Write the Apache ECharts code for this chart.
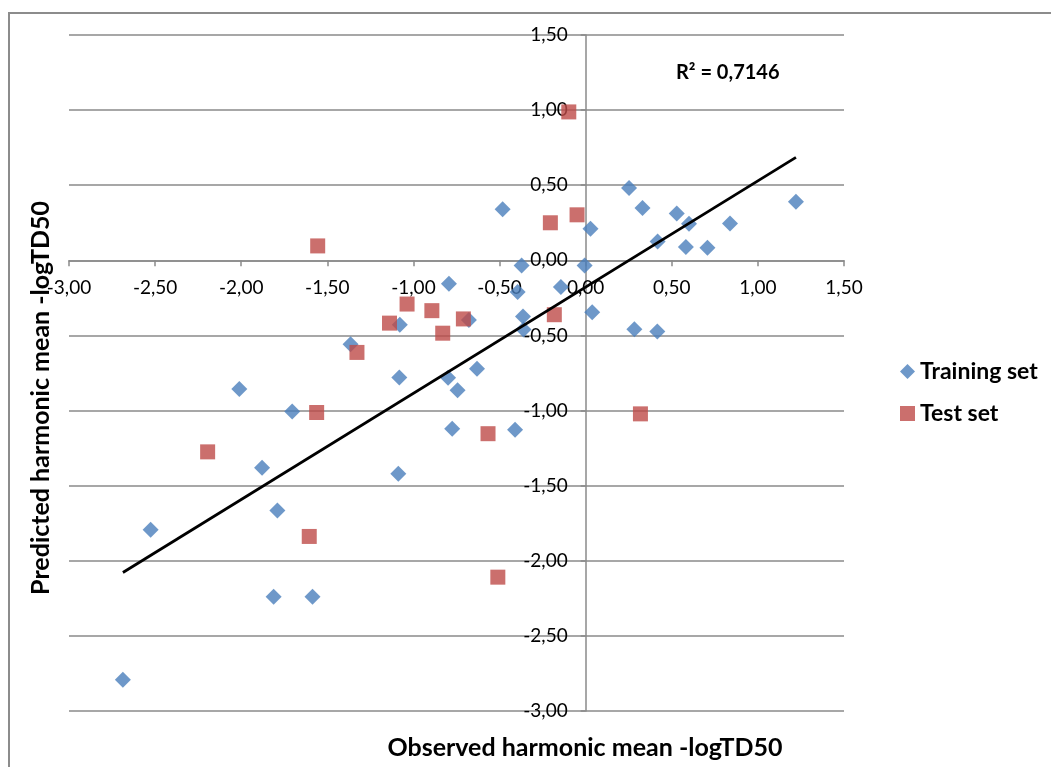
<!DOCTYPE html>
<html>
<head>
<meta charset="utf-8">
<script src="https://cdn.jsdelivr.net/npm/echarts@6/dist/echarts.min.js"></script>
<style>
  html, body { margin: 0; padding: 0; background: #fff; }
  #chart { width: 1051px; height: 767px; }
</style>
</head>
<body>
<div id="chart"></div>
<script>
// observed (x) / predicted (y) -logTD50
var trainX = [-2.687, -2.526, -2.011, -1.879, -1.812, -1.790, -1.704, -1.586, -1.365, -1.088,
  -1.082, -1.079, -0.799, -0.794, -0.775, -0.744, -0.678, -0.631, -0.482, -0.410,
  -0.395, -0.372, -0.364, -0.361, -0.144, -0.006, 0.028, 0.038, 0.252, 0.283,
  0.330, 0.416, 0.418, 0.529, 0.582, 0.600, 0.707, 0.838, 1.221];
var trainY = [-2.792, -1.794, -0.856, -1.381, -2.239, -1.665, -1.007, -2.239, -0.558, -1.421,
  -0.780, -0.428, -0.782, -0.156, -1.121, -0.865, -0.398, -0.722, 0.340, -1.128,
  -0.211, -0.034, -0.374, -0.461, -0.178, -0.035, 0.210, -0.345, 0.481, -0.458,
  0.348, -0.473, 0.125, 0.311, 0.089, 0.244, 0.083, 0.246, 0.390];

var testX = [-2.195, -1.605, -1.562, -1.556, -1.328, -1.139, -1.037, -0.893, -0.830,
  -0.710, -0.567, -0.510, -0.205, -0.182, -0.098, -0.050, 0.318];
var testY = [-1.275, -1.838, -1.013, 0.096, -0.613, -0.418, -0.291, -0.335, -0.485,
  -0.390, -1.154, -2.109, 0.250, -0.362, 0.988, 0.303, -1.022];

var seriesNames = ['Training set', 'Test set'];
var r2Label = 'R² = 0,7146';
var axisMin = -3, axisMax = 1.5, axisStep = 0.5;

function zip(xs, ys) {
  return xs.map(function (x, i) { return [x, ys[i]]; });
}

// linear trend of the training set (like excel's trendline)
function trend(xs, ys) {
  var n = xs.length, sx = 0, sy = 0, sxx = 0, sxy = 0;
  for (var i = 0; i < n; i++) {
    sx += xs[i]; sy += ys[i]; sxx += xs[i] * xs[i]; sxy += xs[i] * ys[i];
  }
  var b = (n * sxy - sx * sy) / (n * sxx - sx * sx);
  var a = (sy - b * sx) / n;
  var lo = Math.min.apply(null, xs), hi = Math.max.apply(null, xs);
  return [[lo, a + b * lo], [hi, a + b * hi]];
}

function fmt(v) {
  return v.toFixed(2).replace('.', ',');
}

var FONT = 'Lato, "Open Sans", sans-serif';
var GRID = '#8a8a8a';

var gridLeft = 69, gridTop = 35, gridW = 775, gridH = 676;
// axes cross at 0 (excel style): shift them in from the grid edges
var xOffset = -gridH * (0 - axisMin) / (axisMax - axisMin);
var yOffset = -gridW * (0 - axisMin) / (axisMax - axisMin);

var chart = echarts.init(document.getElementById('chart'));
chart.setOption({
  animation: false,
  backgroundColor: '#fff',
  grid: { left: gridLeft, top: gridTop, width: gridW, height: gridH },
  legend: {
    data: seriesNames,
    orient: 'vertical',
    left: 895,
    top: 355,
    itemWidth: 15,
    itemHeight: 15,
    itemGap: 19,
    textStyle: { fontFamily: FONT, fontSize: 23, fontWeight: 'bold', color: '#000' }
  },
  xAxis: {
    type: 'value',
    min: axisMin,
    max: axisMax,
    interval: axisStep,
    offset: xOffset,
    axisLine: { onZero: false, lineStyle: { color: GRID, width: 1.5 } },
    axisTick: { show: true, length: 6, lineStyle: { color: GRID, width: 1.5 } },
    axisLabel: { formatter: fmt, margin: 18, fontFamily: FONT, fontSize: 19, color: '#000' },
    splitLine: { show: false }
  },
  yAxis: {
    type: 'value',
    min: axisMin,
    max: axisMax,
    interval: axisStep,
    offset: yOffset,
    axisLine: { show: true, onZero: false, lineStyle: { color: GRID, width: 1.5 } },
    axisTick: { show: true, length: 5, lineStyle: { color: GRID, width: 1.5 } },
    axisLabel: { formatter: fmt, margin: 18, fontFamily: FONT, fontSize: 19, color: '#000' },
    splitLine: { show: true, lineStyle: { color: GRID, width: 1.5 } }
  },
  graphic: [
    {
      type: 'rect', silent: true,
      shape: { x: 9, y: 13, width: 1100, height: 800 },
      style: { fill: null, stroke: '#8c8c8c', lineWidth: 2 }
    },
    {
      type: 'text', x: 585, y: 748,
      style: { text: 'Observed harmonic mean -logTD50', font: 'bold 25px ' + FONT,
        fill: '#000', align: 'center', verticalAlign: 'middle' }
    },
    {
      type: 'text', x: 41, y: 398, rotation: Math.PI / 2,
      style: { text: 'Predicted harmonic mean -logTD50', font: 'bold 25px ' + FONT,
        fill: '#000', align: 'center', verticalAlign: 'middle' }
    },
    {
      type: 'text', x: 676, y: 73,
      style: { text: r2Label, font: 'bold 20px ' + FONT, fill: '#000',
        align: 'left', verticalAlign: 'middle' }
    }
  ],
  series: [
    {
      name: seriesNames[0],
      type: 'scatter',
      symbol: 'diamond',
      symbolSize: 16,
      itemStyle: { color: '#4a7ebb' },
      data: zip(trainX, trainY),
      z: 3
    },
    {
      name: seriesNames[1],
      type: 'scatter',
      symbol: 'rect',
      symbolSize: 15,
      itemStyle: { color: '#be4b48' },
      data: zip(testX, testY),
      z: 3
    },
    {
      name: 'trend',
      type: 'line',
      symbol: 'none',
      lineStyle: { color: '#000', width: 2.8 },
      data: trend(trainX, trainY),
      z: 4
    }
  ]
});
</script>
</body>
</html>
